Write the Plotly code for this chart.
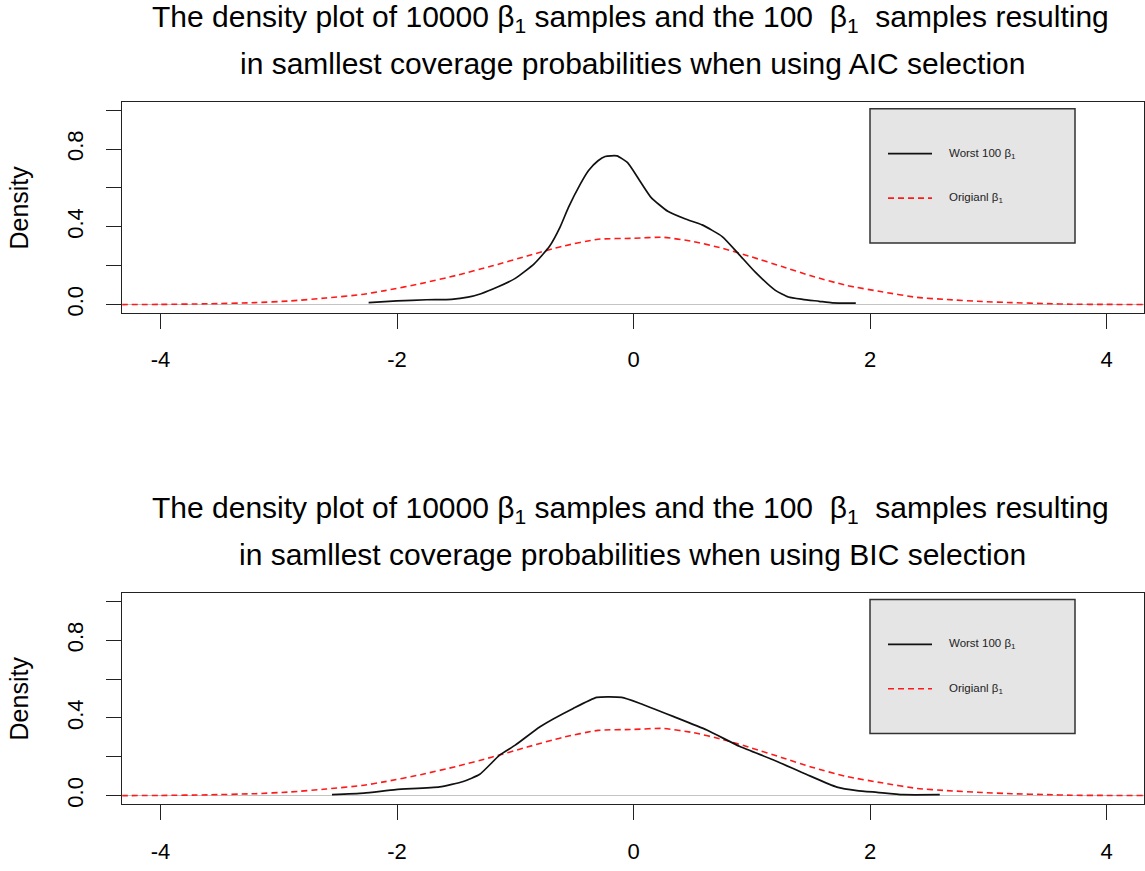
import plotly.graph_objects as go

W, H = 1145, 871

# ---------------- data ----------------
orig_x = [-4.33, -4.0, -3.6, -3.2, -2.9, -2.6, -2.3, -2.1, -1.8, -1.5, -1.2, -0.9, -0.6, -0.3,
          0.0, 0.25, 0.5, 0.75, 1.0, 1.25, 1.5, 1.8, 2.1, 2.4, 2.65, 2.95, 3.2, 3.5, 3.7, 4.0, 4.31]
orig_y = [0.0, 0.001, 0.004, 0.01, 0.019, 0.034, 0.052, 0.072, 0.108, 0.15, 0.198, 0.25, 0.3, 0.336,
          0.341, 0.346, 0.325, 0.29, 0.245, 0.197, 0.148, 0.099, 0.066, 0.037, 0.026, 0.016, 0.01,
          0.005, 0.002, 0.001, 0.0005]

aic_x = [-2.24, -2.0, -1.75, -1.54, -1.4, -1.29, -1.15, -1.0, -0.84, -0.71, -0.62, -0.55, -0.45,
         -0.38, -0.3, -0.24, -0.14, -0.05, 0.05, 0.15, 0.29, 0.44, 0.58, 0.75, 0.89, 1.03, 1.2,
         1.31, 1.43, 1.57, 1.68, 1.88]
aic_y = [0.01, 0.019, 0.025, 0.027, 0.038, 0.056, 0.09, 0.135, 0.21, 0.30, 0.40, 0.50, 0.62,
         0.69, 0.74, 0.762, 0.765, 0.73, 0.64, 0.55, 0.48, 0.44, 0.41, 0.35, 0.26, 0.167, 0.073,
         0.039, 0.027, 0.017, 0.009, 0.008]

bic_x = [-2.55, -2.28, -2.01, -1.64, -1.44, -1.30, -1.13, -1.0, -0.79, -0.51, -0.31, -0.10, 0.055,
         0.34, 0.62, 0.90, 1.18, 1.46, 1.72, 1.89, 2.06, 2.28, 2.59]
bic_y = [0.005, 0.013, 0.031, 0.045, 0.073, 0.11, 0.21, 0.26, 0.355, 0.449, 0.506, 0.506, 0.475,
         0.407, 0.338, 0.253, 0.185, 0.11, 0.044, 0.026, 0.017, 0.005, 0.005]

x_ticks = [-4, -2, 0, 2, 4]
y_ticks = [0.0, 0.2, 0.4, 0.6, 0.8, 1.0]
y_ticktext = ["0.0", "", "0.4", "", "0.8", ""]

selections = ["AIC", "BIC"]
legend_labels = ["Worst 100 β<sub>1</sub>", "Origianl β<sub>1</sub>"]

FONT = "Liberation Sans, Arial, sans-serif"


def PX(p):
    return p / W


def PY(p):
    return 1 - p / H


fig = go.Figure()

panels = [
    dict(top=102.7, bottom=314.3, zero=306.0, one=110.7, data=(aic_x, aic_y), sel=selections[0]),
    dict(top=595.7, bottom=807.7, zero=799.3, one=604.3, data=(bic_x, bic_y), sel=selections[1]),
]

x_left, x_right = 122.3, 1144.0
x0pix, xscale = 633.5, 118.25

annotations = []
shapes = []

for i, p in enumerate(panels):
    xa = "x" if i == 0 else "x2"
    ya = "y" if i == 0 else "y2"
    bx, by = p["data"]
    fig.add_trace(go.Scatter(x=orig_x, y=orig_y, mode="lines", xaxis=xa, yaxis=ya,
                             line=dict(color="#ff1a1a", width=1.6, dash="6px,4px",
                                       shape="spline", smoothing=0.6),
                             showlegend=False, hoverinfo="skip"))
    fig.add_trace(go.Scatter(x=bx, y=by, mode="lines", xaxis=xa, yaxis=ya,
                             line=dict(color="#111111", width=1.7, shape="spline", smoothing=0.5),
                             showlegend=False, hoverinfo="skip"))

    yscale = p["zero"] - p["one"]
    yrange = [(p["zero"] - p["bottom"]) / yscale, (p["zero"] - p["top"]) / yscale]
    xrange = [(x_left - x0pix) / xscale, (x_right - x0pix) / xscale]

    axis_common = dict(showline=True, linecolor="#222222", linewidth=1.3, mirror=True,
                       ticks="outside", ticklen=15, tickwidth=1.3, tickcolor="#222222",
                       showgrid=False, tickfont=dict(family=FONT, size=22, color="black"))
    xkey = "xaxis" if i == 0 else "xaxis2"
    ykey = "yaxis" if i == 0 else "yaxis2"
    fig.update_layout(**{
        xkey: dict(domain=[PX(x_left), PX(x_right)], range=xrange, tickvals=x_ticks,
                   ticktext=[str(v) for v in x_ticks], zeroline=False, anchor=ya,
                   ticklabelstandoff=12, **axis_common),
        ykey: dict(domain=[PY(p["bottom"]), PY(p["top"])], range=yrange, tickvals=y_ticks,
                   ticktext=y_ticktext, tickangle=-90, zeroline=True, zerolinecolor="#c4c4c4",
                   zerolinewidth=1.2, anchor=xa, ticklabelstandoff=14, **axis_common),
    })

    off = p["top"] - 102.7
    # titles
    annotations.append(dict(
        x=PX(630), y=PY(19 + off), xref="paper", yref="paper", xanchor="center", yanchor="middle",
        text="The density plot of 10000 β<sub>1</sub> samples and the 100\u00a0 β<sub>1</sub>\u00a0 samples resulting",
        showarrow=False, font=dict(family=FONT, size=30, color="black")))
    annotations.append(dict(
        x=PX(632), y=PY(64 + off), xref="paper", yref="paper", xanchor="center", yanchor="middle",
        text=f"in samllest coverage probabilities when using {p['sel']} selection",
        showarrow=False, font=dict(family=FONT, size=30, color="black")))
    # y axis title
    annotations.append(dict(
        x=PX(19), y=PY((p["top"] + p["bottom"]) / 2), xref="paper", yref="paper",
        xanchor="center", yanchor="middle", text="Density", textangle=-90, showarrow=False,
        font=dict(family=FONT, size=25, color="black")))
    # legend box
    shapes.append(dict(type="rect", xref="paper", yref="paper",
                       x0=PX(870), x1=PX(1075), y0=PY(244 + off), y1=PY(109.3 + off),
                       fillcolor="#e5e5e5", line=dict(color="#333333", width=1.5)))
    shapes.append(dict(type="line", xref="paper", yref="paper",
                       x0=PX(888), x1=PX(932), y0=PY(154.3 + off), y1=PY(154.3 + off),
                       line=dict(color="#111111", width=1.6)))
    shapes.append(dict(type="line", xref="paper", yref="paper",
                       x0=PX(888), x1=PX(932), y0=PY(199 + off), y1=PY(199 + off),
                       line=dict(color="#ff1a1a", width=1.6, dash="6px,4px")))
    for lab, ly in zip(legend_labels, [154.3, 199]):
        annotations.append(dict(
            x=PX(947), y=PY(ly + off), xref="paper", yref="paper", xanchor="left",
            yanchor="middle", text=lab, showarrow=False,
            font=dict(family=FONT, size=11.5, color="#222222")))

fig.update_layout(width=W, height=H, autosize=False, margin=dict(l=0, r=0, t=0, b=0),
                  paper_bgcolor="white", plot_bgcolor="white", showlegend=False,
                  annotations=annotations, shapes=shapes)

fig.write_html("out.html")
